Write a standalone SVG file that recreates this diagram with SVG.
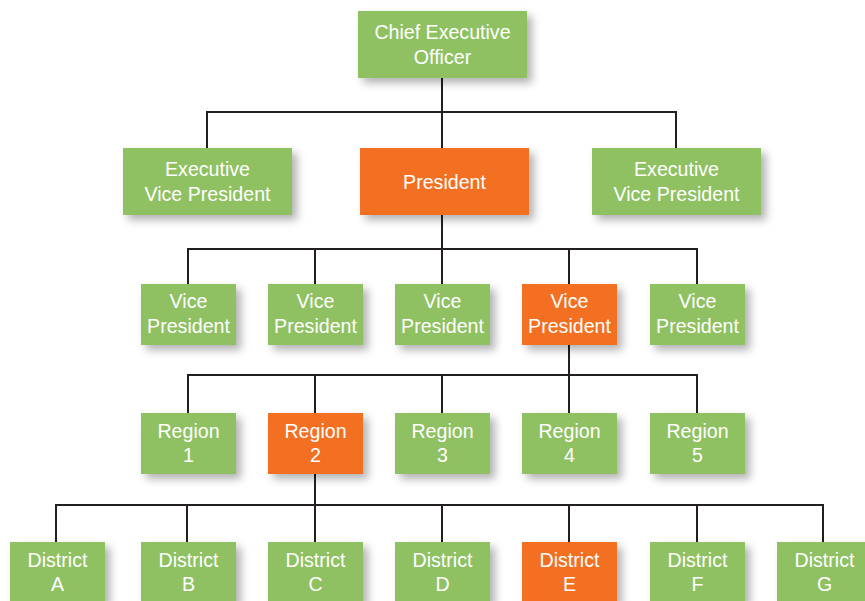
<svg xmlns="http://www.w3.org/2000/svg" width="865" height="601" viewBox="0 0 865 601">
<defs>
<filter id="sh" x="-20%" y="-20%" width="150%" height="160%">
<feDropShadow dx="5" dy="5" stdDeviation="4" flood-color="#000" flood-opacity="0.3"/>
</filter>
<style>
.g{fill:#8fc163;filter:url(#sh)}
.o{fill:#f37021;filter:url(#sh)}
text{font-family:"Liberation Sans",Arial,sans-serif;font-size:19.6px;fill:#fff;text-anchor:middle}
.c{fill:none;stroke:#231f20;stroke-width:2}
</style>
</defs>
<rect width="865" height="601" fill="#fff"/>
<g id="connectors">
<path class="c" d="M442 78V249M207 148V112H676V148"/>
<path class="c" d="M188 284V249H697V284M315 249V284M442 249V284M569 249V284"/>
<path class="c" d="M569 345V413M188 413V375H697V413M315 375V413M442 375V413"/>
<path class="c" d="M315 474V542M56 542V505H823V542M187 505V542M442 505V542M569 505V542M697 505V542"/>
</g>
<g id="ceo"><rect class="g" x="358" y="11" width="169" height="67"/><text x="442.5" y="39">Chief Executive</text><text x="442.5" y="64">Officer</text></g>
<g id="evp1"><rect class="g" x="123" y="148" width="169" height="67"/><text x="207.5" y="176">Executive</text><text x="207.5" y="201">Vice President</text></g>
<g id="president"><rect class="o" x="360" y="148" width="169" height="67"/><text x="444.5" y="189">President</text></g>
<g id="evp2"><rect class="g" x="592" y="148" width="169" height="67"/><text x="676.5" y="176">Executive</text><text x="676.5" y="201">Vice President</text></g>
<g id="vp1"><rect class="g" x="141" y="284" width="95" height="61"/><text x="188.5" y="308">Vice</text><text x="188.5" y="333">President</text></g>
<g id="vp2"><rect class="g" x="268" y="284" width="95" height="61"/><text x="315.5" y="308">Vice</text><text x="315.5" y="333">President</text></g>
<g id="vp3"><rect class="g" x="395" y="284" width="95" height="61"/><text x="442.5" y="308">Vice</text><text x="442.5" y="333">President</text></g>
<g id="vp4"><rect class="o" x="522" y="284" width="95" height="61"/><text x="569.5" y="308">Vice</text><text x="569.5" y="333">President</text></g>
<g id="vp5"><rect class="g" x="650" y="284" width="95" height="61"/><text x="697.5" y="308">Vice</text><text x="697.5" y="333">President</text></g>
<g id="region1"><rect class="g" x="141" y="413" width="95" height="61"/><text x="188.5" y="438">Region</text><text x="188.5" y="462">1</text></g>
<g id="region2"><rect class="o" x="268" y="413" width="95" height="61"/><text x="315.5" y="438">Region</text><text x="315.5" y="462">2</text></g>
<g id="region3"><rect class="g" x="395" y="413" width="95" height="61"/><text x="442.5" y="438">Region</text><text x="442.5" y="462">3</text></g>
<g id="region4"><rect class="g" x="522" y="413" width="95" height="61"/><text x="569.5" y="438">Region</text><text x="569.5" y="462">4</text></g>
<g id="region5"><rect class="g" x="650" y="413" width="95" height="61"/><text x="697.5" y="438">Region</text><text x="697.5" y="462">5</text></g>
<g id="districtA"><rect class="g" x="10" y="542" width="95" height="61"/><text x="57.5" y="567">District</text><text x="57.5" y="591">A</text></g>
<g id="districtB"><rect class="g" x="141" y="542" width="95" height="61"/><text x="188.5" y="567">District</text><text x="188.5" y="591">B</text></g>
<g id="districtC"><rect class="g" x="268" y="542" width="95" height="61"/><text x="315.5" y="567">District</text><text x="315.5" y="591">C</text></g>
<g id="districtD"><rect class="g" x="395" y="542" width="95" height="61"/><text x="442.5" y="567">District</text><text x="442.5" y="591">D</text></g>
<g id="districtE"><rect class="o" x="522" y="542" width="95" height="61"/><text x="569.5" y="567">District</text><text x="569.5" y="591">E</text></g>
<g id="districtF"><rect class="g" x="650" y="542" width="95" height="61"/><text x="697.5" y="567">District</text><text x="697.5" y="591">F</text></g>
<g id="districtG"><rect class="g" x="777" y="542" width="95" height="61"/><text x="824.5" y="567">District</text><text x="824.5" y="591">G</text></g>
</svg>
